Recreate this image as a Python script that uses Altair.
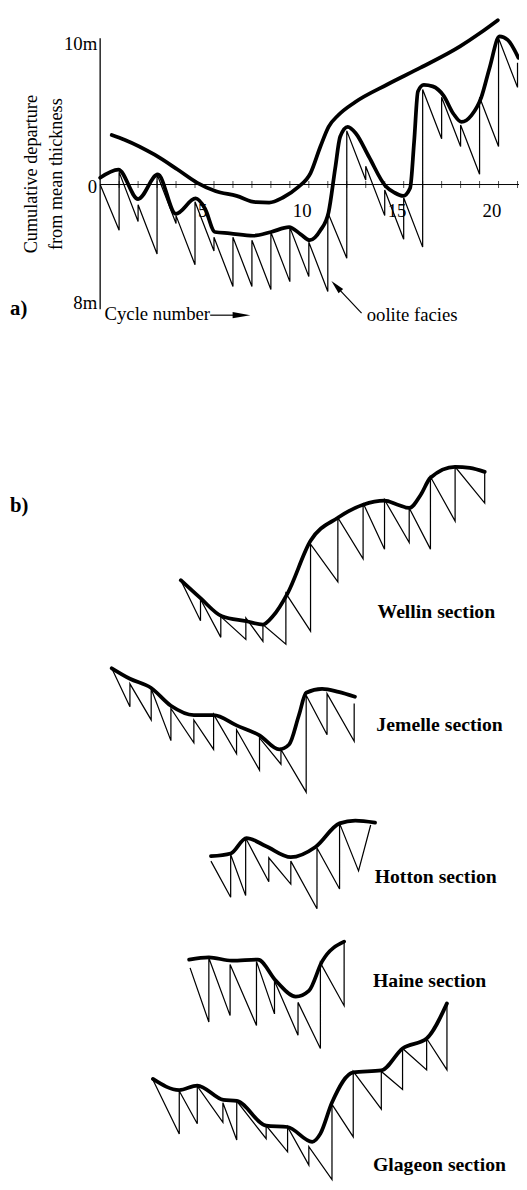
import altair as alt
import pandas as pd

# ---------------- data: part a) Fischer plot ----------------
A_CYCLES = list(range(0, 23))
A_BOTTOM = [None, -3.18, -2.57, -4.83, -2.71, -5.58, -4.62, -7.09, -7.09, -7.29, -6.75,
            -6.40, -7.43, -5.12, 0.31, -2.16, -3.80, -4.35, 3.18, 2.64, 0.72, 2.64, 6.75]
A_TOP = [0.0, 0.86, -1.40, 0.72, -2.16, -1.20, -3.66, -3.66, -3.87, -3.32, -2.98,
         -4.01, -1.95, 3.73, 1.27, -0.38, -0.92, 6.61, 6.06, 4.14, 6.06, 10.17, 8.46]
A_SMOOTH_X = [0.0, 0.96, 2.0, 3.04, 3.99, 5.03, 5.53, 6.05, 6.83, 8.06, 9.01, 9.96, 10.57,
              11.05, 11.61, 12.04, 12.39, 12.65, 13.05, 13.48, 14.16, 15.04, 15.51, 15.97,
              16.34, 16.55, 16.75, 17.06, 17.53, 18.10, 18.62, 19.05, 19.57, 20.09, 20.53,
              21.05, 21.48, 22.05]
A_SMOOTH_Y = [0.47, 1.04, -1.01, 0.70, -2.04, -0.97, -1.68, -3.30, -3.39, -3.56, -3.30, -2.96,
              -3.46, -3.87, -3.18, -1.93, 1.13, 3.32, 4.01, 3.55, 1.95, -0.10, -0.56, -0.79,
              -0.24, 2.98, 6.47, 6.92, 6.82, 6.18, 4.92, 4.35, 4.81, 6.06, 8.12, 10.29,
              10.05, 8.80]
A_UPPER_X = [0.61, 1.31, 2.87, 4.08, 5.12, 6.07, 7.19, 8.23, 8.91, 9.64, 10.40, 11.09, 11.61,
             12.04, 12.56, 13.43, 15.16, 16.89, 18.97, 20.01, 20.96]
A_UPPER_Y = [3.44, 3.10, 2.07, 1.04, 0.12, -0.45, -0.79, -1.23, -1.25, -0.90, -0.22, 0.79,
             2.64, 4.01, 4.83, 5.72, 6.97, 8.12, 9.60, 10.51, 11.42]
A_XTICK_LABELS = [5, 10, 15, 20]
A_YTICK_VALUES = [10, 0, -8]
A_YTICK_LABELS = ["10m", "0", "8m"]

# ---------------- data: part b) sections (local units) ----------------
SECTION_NAMES = ["Wellin section", "Jemelle section", "Hotton section",
                 "Haine section", "Glageon section"]

WELLIN_X = [0, 1.04, 2.11, 3.43, 4.33, 5.54, 6.84, 8.28, 9.61, 10.74, 12.04, 13.16, 14.46, 16.02]
WELLIN_BOTTOM = [None, -2.81, -3.97, -4.11, -4.25, -4.45, -3.54, -0.11, 1.49, 2.16, 2.62, 2.16, 4.11, 5.36]
WELLIN_TOP = [0.0, -1.32, -2.53, -2.62, -3.08, -0.91, 2.51, 4.34, 5.36, 5.59, 5.02, 7.19, 7.88, 7.53]
WELLIN_SMOOTH_X = [0, 1.04, 2.17, 3.46, 4.33, 4.85, 5.63, 6.84, 8.28, 9.61, 10.74, 11.43, 12.04,
                   12.65, 13.16, 14.46, 15.24, 16.02]
WELLIN_SMOOTH_Y = [0, -1.25, -2.51, -2.85, -3.08, -2.51, -0.91, 2.74, 4.34, 5.25, 5.53, 5.25, 5.02,
                   5.94, 7.12, 7.88, 7.81, 7.53]

JEMELLE_X = [0, 0.96, 2.08, 3.12, 4.33, 5.37, 6.58, 7.79, 8.92, 10.25, 11.35, 12.78]
JEMELLE_BOTTOM = [None, -2.67, -3.59, -5.03, -5.18, -5.64, -5.94, -7.08, -6.67, -8.61, -4.62, -5.07]
JEMELLE_TOP = [0.0, -1.08, -1.42, -2.79, -3.59, -3.20, -4.27, -4.84, -5.64, -1.88, -1.76, -2.45]
JEMELLE_SMOOTH_X = [0, 0.96, 2.08, 3.12, 4.33, 5.37, 6.58, 7.79, 8.83, 9.35, 9.87, 10.25, 11.09,
                    11.95, 12.82]
JEMELLE_SMOOTH_Y = [0, -0.73, -1.37, -2.60, -3.25, -3.25, -3.97, -4.66, -5.64, -5.30, -3.25, -1.70,
                    -1.43, -1.64, -1.98]

HOTTON_X = [0, 1.04, 1.83, 3.05, 4.21, 5.59, 6.78, 7.78, 8.42]
HOTTON_BOTTOM = [None, -2.51, -2.40, -1.44, -1.60, -3.31, -1.94, -0.68, None]
HOTTON_TOP = [0.0, 0.46, 1.60, 0.23, 0.0, 0.91, 2.62, None, 2.51]
HOTTON_SMOOTH_X = [0, 1.04, 1.87, 2.91, 4.21, 5.51, 6.78, 7.61, 8.65]
HOTTON_SMOOTH_Y = [0.34, 0.53, 1.60, 1.03, 0.27, 0.98, 2.62, 2.81, 2.67]

HAINE_X = [0, 0.99, 2.11, 3.50, 4.45, 5.69, 6.87, 8.12]
HAINE_BOTTOM = [None, -3.77, -3.32, -4.00, -3.20, -4.68, -5.60, -2.63]
HAINE_TOP = [0.0, 0.68, 0.23, 0.45, -0.92, -2.40, 0.34, 1.82]
HAINE_SMOOTH_X = [-0.05, 0.99, 2.20, 3.58, 4.53, 5.57, 6.26, 6.96, 8.12]
HAINE_SMOOTH_Y = [0.57, 0.73, 0.50, 0.57, -0.91, -2.00, -1.60, 0.45, 1.82]

GLAGEON_X = [0, 1.39, 2.34, 3.69, 4.42, 5.97, 7.10, 8.22, 9.44, 10.56, 12.04, 13.16, 14.43, 15.50]
GLAGEON_BOTTOM = [None, -3.77, -3.07, -2.96, -4.20, -4.10, -5.02, -5.94, -6.94, -3.98, -2.05,
                  -0.68, 0.68, 0.68]
GLAGEON_TOP = [0.0, -0.79, -0.45, -1.60, -1.49, -3.19, -3.29, -4.66, -1.72, 0.57, 0.57, 2.17,
               2.86, 5.34]
GLAGEON_SMOOTH_X = [0, 1.39, 2.34, 3.72, 4.42, 5.97, 7.10, 8.40, 8.83, 9.44, 10.56, 12.04, 13.16,
                    14.43, 15.50]
GLAGEON_SMOOTH_Y = [0.05, -0.73, -0.41, -1.41, -1.48, -3.19, -3.29, -4.32, -3.75, -1.59, 0.51,
                    0.64, 2.17, 2.86, 5.30]

# ---------------- layout (positions, not data) ----------------
PX_PER_CYCLE = 19.25
PX_PER_M = 14.6
PLOT_W, PLOT_H = 425, 1174
LEFT_PAD = 93.5
Y_TOP = 11.678
X_MAX = PLOT_W / PX_PER_CYCLE
Y_BOTTOM = Y_TOP - PLOT_H / PX_PER_M

SECTION_ORIGIN = {
    "Wellin section": (4.25, -27.50),
    "Jemelle section": (0.61, -33.62),
    "Hotton section": (5.84, -47.02),
    "Haine section": (4.74, -54.44),
    "Glageon section": (2.78, -62.21),
}
SECTION_LABEL_POS = {
    "Wellin section": (14.62, -29.69),
    "Jemelle section": (14.56, -37.55),
    "Hotton section": (14.47, -48.16),
    "Haine section": (14.38, -55.36),
    "Glageon section": (14.38, -68.14),
}
FONT = "Liberation Serif"
FS = 19

xs = alt.Scale(domain=[0, X_MAX], nice=False, zero=False)
ys = alt.Scale(domain=[Y_BOTTOM, Y_TOP], nice=False, zero=False)


def fischer_rows(name, xv, bottoms, tops, ox=0.0, oy=0.0):
    rows, k = [], 0
    for x, b, t in zip(xv, bottoms, tops):
        for v in (b, t):
            if v is not None:
                rows.append({"path": name, "order": k, "x": ox + x, "y": oy + v})
                k += 1
    return rows


def smooth_rows(name, xv, yv, ox=0.0, oy=0.0):
    return [{"path": name, "order": i, "x": ox + x, "y": oy + y}
            for i, (x, y) in enumerate(zip(xv, yv))]


thin, thick = [], []
thin += fischer_rows("a", A_CYCLES, A_BOTTOM, A_TOP)
thick += smooth_rows("a_low", A_SMOOTH_X, A_SMOOTH_Y)
thick += smooth_rows("a_up", A_UPPER_X, A_UPPER_Y)

sections = [
    ("Wellin section", WELLIN_X, WELLIN_BOTTOM, WELLIN_TOP, WELLIN_SMOOTH_X, WELLIN_SMOOTH_Y),
    ("Jemelle section", JEMELLE_X, JEMELLE_BOTTOM, JEMELLE_TOP, JEMELLE_SMOOTH_X, JEMELLE_SMOOTH_Y),
    ("Hotton section", HOTTON_X, HOTTON_BOTTOM, HOTTON_TOP, HOTTON_SMOOTH_X, HOTTON_SMOOTH_Y),
    ("Haine section", HAINE_X, HAINE_BOTTOM, HAINE_TOP, HAINE_SMOOTH_X, HAINE_SMOOTH_Y),
    ("Glageon section", GLAGEON_X, GLAGEON_BOTTOM, GLAGEON_TOP, GLAGEON_SMOOTH_X, GLAGEON_SMOOTH_Y),
]
for name, sx, sb, st, mx, my in sections:
    ox, oy = SECTION_ORIGIN[name]
    thin += fischer_rows(name, sx, sb, st, ox, oy)
    thick += smooth_rows(name + "_s", mx, my, ox, oy)

thin_df = pd.DataFrame(thin)
thick_df = pd.DataFrame(thick)

X = lambda f: alt.X(f, type="quantitative", scale=xs, axis=None)
Y = lambda f: alt.Y(f, type="quantitative", scale=ys, axis=None)
XD = lambda v: alt.XDatum(datum=v, type="quantitative", scale=xs, axis=None)
YD = lambda v: alt.YDatum(datum=v, type="quantitative", scale=ys, axis=None)
ONE = pd.DataFrame({"a": [0]})

thin_layer = alt.Chart(thin_df).mark_line(color="black", strokeWidth=1.25).encode(
    x=X("x"), y=Y("y"), order="order:Q", detail="path:N")
thick_layer = alt.Chart(thick_df).mark_line(
    color="black", strokeWidth=3.8, interpolate="monotone", strokeCap="round",
    strokeJoin="round").encode(x=X("x"), y=Y("y"), order="order:Q", detail="path:N")

# axes of part a
y_axis = alt.Chart(ONE).mark_rule(color="black", strokeWidth=1.3).encode(
    x=XD(0), y=YD(-8.66), y2=alt.Y2Datum(datum=10.17))
x_axis = alt.Chart(ONE).mark_rule(color="black", strokeWidth=1).encode(
    x=XD(0), x2=alt.X2Datum(datum=X_MAX), y=YD(0))
ticks = alt.Chart(pd.DataFrame({"c": A_CYCLES[1:]})).mark_tick(
    color="black", orient="vertical", size=7, thickness=1).encode(x=X("c"), y=YD(0))
xlabels = alt.Chart(pd.DataFrame({"c": A_XTICK_LABELS})).mark_text(
    font=FONT, fontSize=FS, align="left", baseline="middle", dx=3, dy=27).encode(
    x=X("c"), y=YD(0), text="c:Q")
ylabels = alt.Chart(pd.DataFrame({"v": A_YTICK_VALUES, "t": A_YTICK_LABELS})).mark_text(
    font=FONT, fontSize=FS, align="right", baseline="middle", dx=-3, dy=3).encode(
    x=XD(0), y=Y("v"), text="t:N")


def label(text, xv, yv, size=FS, weight="normal", align="left", baseline="middle", angle=0):
    return alt.Chart(ONE).mark_text(
        font=FONT, fontSize=size, fontWeight=weight, align=align, baseline=baseline,
        angle=angle, text=text, color="black").encode(x=XD(xv), y=YD(yv))


ytitle1 = label("Cumulative departure", -3.64, 0.72, size=18.5, align="center", angle=270)
ytitle2 = label("from mean thickness", -2.34, 0.72, size=18.5, align="center", angle=270)
a_lab = label("a)", -4.75, -8.66, size=21, weight="bold")
b_lab = label("b)", -4.75, -22.36, size=21, weight="bold")
cyc_lab = label("Cycle number", 0.23, -9.42, baseline="alphabetic")
ool_lab = label("oolite facies", 14.05, -9.49, baseline="alphabetic")

cyc_arrow = alt.Chart(ONE).mark_rule(color="black", strokeWidth=1.2).encode(
    x=XD(5.80), x2=alt.X2Datum(datum=7.25), y=YD(-9.08))
cyc_head = alt.Chart(ONE).mark_point(
    shape="M-1,-0.35L1,0L-1,0.35Z", size=324, filled=True, color="black", opacity=1).encode(
    x=XD(7.45), y=YD(-9.08))
ool_arrow = alt.Chart(ONE).mark_rule(color="black", strokeWidth=1.2).encode(
    x=XD(13.78), x2=alt.X2Datum(datum=12.60), y=YD(-8.94), y2=alt.Y2Datum(datum=-7.29))
ool_head = alt.Chart(ONE).mark_point(
    shape="M-1,-0.45L1,0L-1,0.45Z", size=196, filled=True, color="black", opacity=1,
    angle=227).encode(x=XD(12.44), y=YD(-7.05))

sec_labels = [label(n, *SECTION_LABEL_POS[n], size=20, weight="bold") for n in SECTION_NAMES]

chart = alt.layer(
    y_axis, x_axis, ticks, xlabels, ylabels, thin_layer, thick_layer,
    ytitle1, ytitle2, a_lab, b_lab, cyc_lab, ool_lab, cyc_arrow, cyc_head, ool_arrow, ool_head,
    *sec_labels
).properties(
    width=PLOT_W, height=PLOT_H, autosize="none",
    padding={"left": LEFT_PAD, "top": 0, "right": 0, "bottom": 0},
).configure_view(stroke=None)

chart.save("out.html", embed_options={"renderer": "svg", "actions": False})
